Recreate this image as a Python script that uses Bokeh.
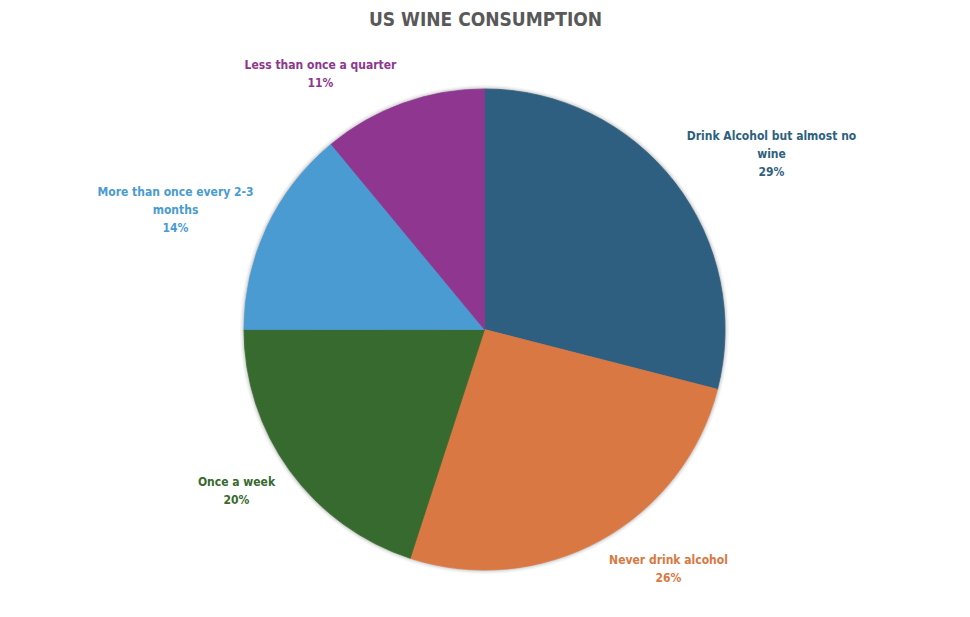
import math
from bokeh.plotting import figure
from bokeh.models import Range1d, ColumnDataSource
from bokeh.core.properties import value
from bokeh.embed import file_html
from bokeh.resources import INLINE

# ---- data ----
categories = ["Drink Alcohol but almost no wine", "Never drink alcohol", "Once a week",
              "More than once every 2-3 months", "Less than once a quarter"]
shares = [29, 26, 20, 14, 11]
label_lines = [["Drink Alcohol but almost no", "wine"], ["Never drink alcohol"], ["Once a week"],
               ["More than once every 2-3", "months"], ["Less than once a quarter"]]
title_text = "US WINE CONSUMPTION"

# ---- styles / layout ----
colors = ["#2E5F80", "#D97842", "#376A2E", "#4A9BD2", "#8E3690"]
W, H = 954, 601
CX, CY = 484, H - 329   # pie centre (data units == pixels)
R = 240.5
# label block centres (pixel coords from top-left)
label_pos = [(771, 153), (668, 568), (236, 490), (175, 209), (320, 73)]
FONT = "DejaVu Sans Condensed"
LINE_H = 18

p = figure(width=W, height=H, output_backend="svg", toolbar_location=None,
           x_range=Range1d(0, W), y_range=Range1d(0, H), min_border=0)
p.axis.visible = False
p.grid.visible = False
p.outline_line_color = None
p.background_fill_color = "white"
p.border_fill_color = "white"

# soft shadow
for dr, a in [(4, 0.04), (2.5, 0.06), (1.2, 0.10)]:
    p.circle(x=[CX], y=[CY], radius=R + dr, fill_color="#000000", fill_alpha=a, line_color=None)

total = float(sum(shares))
starts, ends = [], []
cum = 0.0
for s in shares:
    starts.append(math.pi / 2 - 2 * math.pi * cum / total)
    cum += s
    ends.append(math.pi / 2 - 2 * math.pi * cum / total)

src = ColumnDataSource(dict(start=starts, end=ends, color=colors, cat=categories))
p.wedge(x=CX, y=CY, radius=R, start_angle="start", end_angle="end", direction="clock",
        fill_color="color", line_color="color", line_width=0.8, source=src)

# labels
tx, ty, tt, tc = [], [], [], []
for i, (lines, s) in enumerate(zip(label_lines, shares)):
    all_lines = lines + [f"{s}%"]
    x0, y0 = label_pos[i]
    n = len(all_lines)
    for k, ln in enumerate(all_lines):
        yy = y0 + (k - (n - 1) / 2) * LINE_H
        tx.append(x0)
        ty.append(H - yy)
        tt.append(ln)
        tc.append(colors[i])
p.text(x=tx, y=ty, text=tt, text_color=tc, text_font=value(FONT), text_font_style="bold",
       text_font_size="12px", text_align="center", text_baseline="middle")

# title
p.text(x=[485], y=[H - 18], text=[title_text], text_color="#595959", text_font=value(FONT),
       text_font_style="bold", text_font_size="19px", text_align="center", text_baseline="middle")

open("out.html", "w").write(file_html(p, INLINE))
